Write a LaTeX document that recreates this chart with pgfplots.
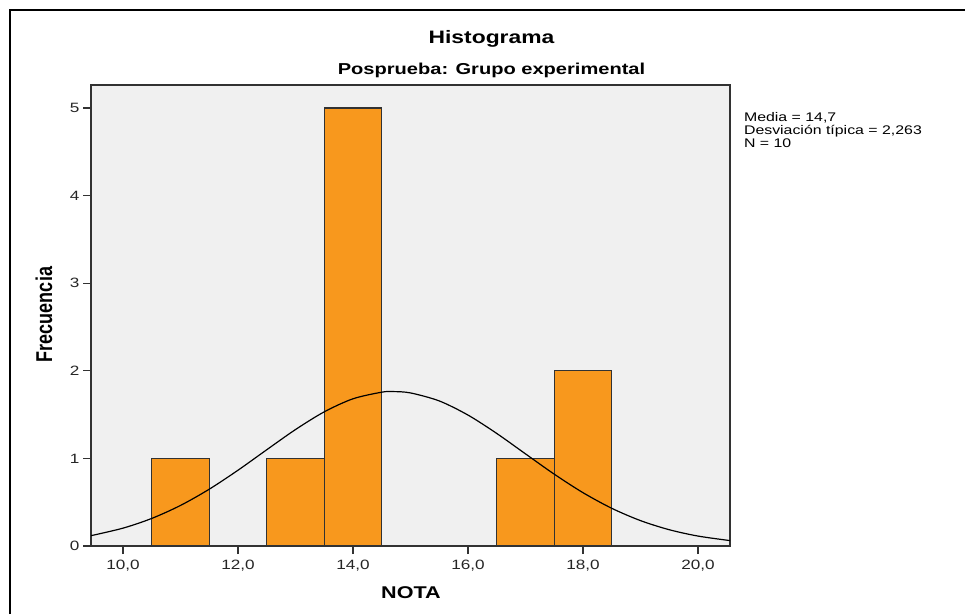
\documentclass[border=0pt]{standalone}
\usepackage{pgfplots}
\pgfplotsset{compat=1.18}
\usepackage{fontspec}
\setmainfont{Liberation Sans}
\usepackage{graphicx}
\definecolor{barorange}{RGB}{248,152,29}
\definecolor{plotbg}{RGB}{240,240,240}
\definecolor{edge}{RGB}{50,50,50}
\newcommand\sx[1]{\scalebox{1.27}[1]{#1}}
\begin{document}
\begin{tikzpicture}[x=1pt,y=1pt]
\useasboundingbox (0,0) rectangle (965,614);
\draw[line width=2pt] (10,0) -- (10,604) -- (965,604);
\begin{axis}[at={(91pt,68pt)}, anchor=south west, scale only axis,
  width=639pt, height=461pt,
  xmin=9.443, xmax=20.557, ymin=0, ymax=5.263,
  axis background/.style={fill=plotbg},
  axis line style={edge, line width=1.3pt},
  xtick={10,12,14,16,18,20},
  xticklabels={\sx{10,0},\sx{12,0},\sx{14,0},\sx{16,0},\sx{18,0},\sx{20,0}},
  ytick={0,1,2,3,4,5},
  yticklabels={\sx{0},\sx{1},\sx{2},\sx{3},\sx{4},\sx{5}},
  tick align=outside, xtick pos=left, ytick pos=left,
  major tick length=8pt,
  tick style={edge, line width=1.3pt},
  ticklabel style={font=\fontsize{13.5}{13.5}\selectfont, text=black!85},
  xticklabel style={yshift=-3pt},
  clip=true,
]
\addplot[ybar, bar width=1, fill=barorange, draw=edge, line width=1.3pt]
  coordinates {(11,1) (13,1) (14,5) (17,1) (18,2)};
\addplot[smooth, black, line width=1.2pt, no marks] coordinates {
(9.443,0.1180) (10,0.2040) (10.5,0.3150) (11,0.4632) (11.5,0.6487) (12,0.8653)
(12.5,1.0991) (13,1.3296) (13.5,1.5318) (14,1.6807) (14.5,1.7561) (14.7,1.763)
(15,1.7476) (15.5,1.6562) (16,1.4948) (16.5,1.2849) (17,1.0518) (17.5,0.8200)
(18,0.6088) (18.5,0.4305) (19,0.2899) (19.5,0.1859) (20,0.1135) (20.557,0.0619)};
\end{axis}
\node[anchor=base, font=\bfseries\fontsize{18}{18}\selectfont] at (491.5,570) {\sx{Histograma}};
\node[anchor=base, font=\bfseries\fontsize{15.8}{15.8}\selectfont] at (491.5,539) {\sx{Posprueba: Grupo experimental}};
\node[anchor=base, font=\bfseries\fontsize{17}{17}\selectfont] at (411,15.7) {\sx{NOTA}};
\node[rotate=90, font=\bfseries\fontsize{18}{18}\selectfont] at (44,299.5) {\scalebox{1}[1.27]{Frecuencia}};
\node[anchor=base west, font=\fontsize{12.5}{12.5}\selectfont] at (740.5,492.3) {\sx{Media = 14,7}};
\node[anchor=base west, font=\fontsize{12.5}{12.5}\selectfont] at (740.5,479.3) {\sx{Desviación típica = 2,263}};
\node[anchor=base west, font=\fontsize{12.5}{12.5}\selectfont] at (740.5,466.7) {\sx{N = 10}};
\end{tikzpicture}
\end{document}
